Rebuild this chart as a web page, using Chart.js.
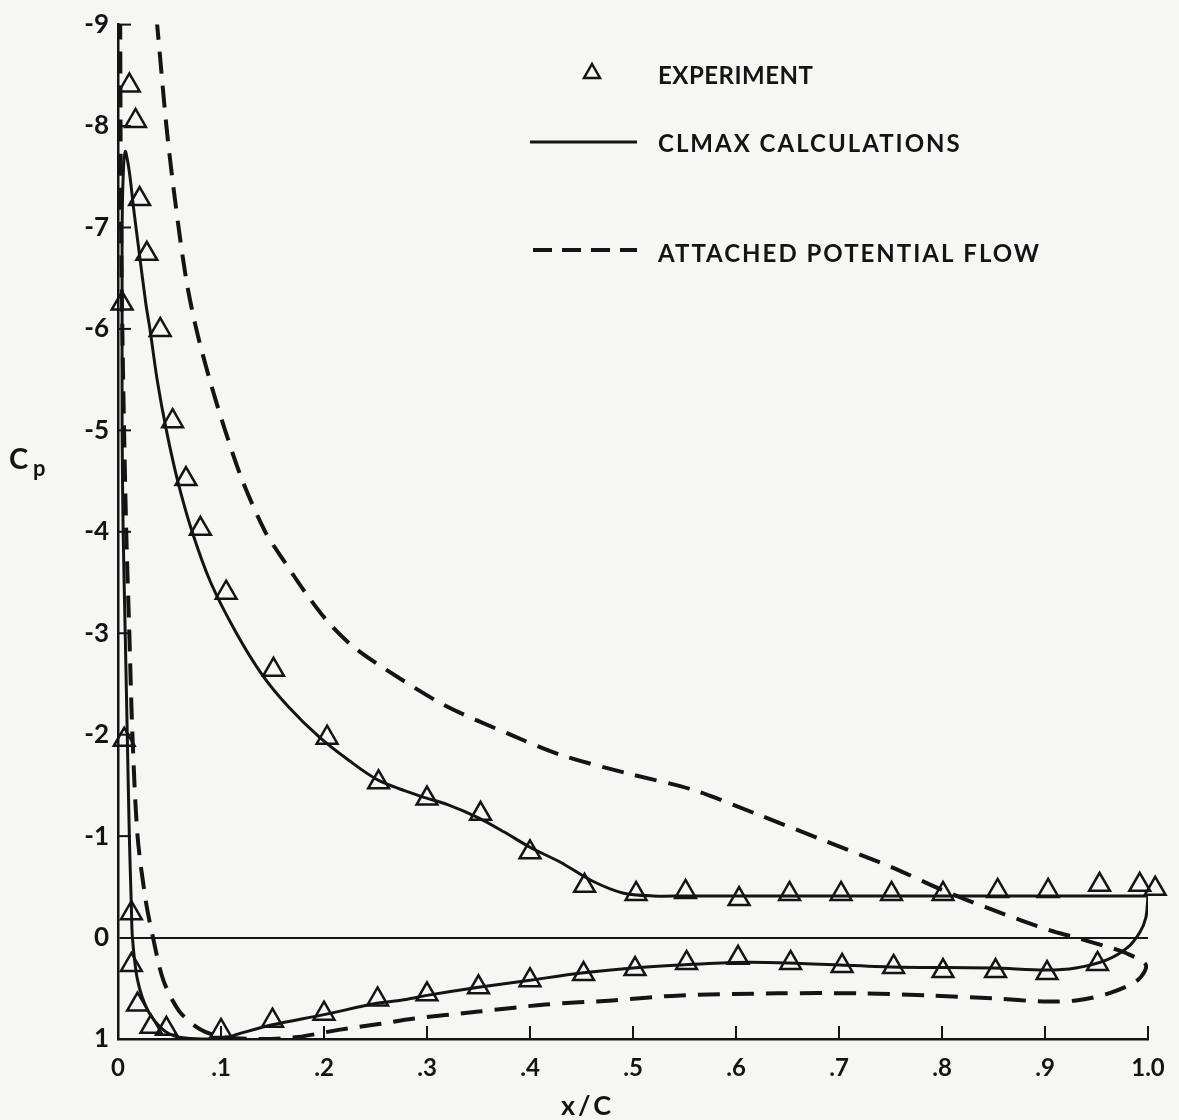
<!DOCTYPE html>
<html>
<head>
<meta charset="utf-8">
<title>Cp distribution</title>
<script src="https://cdn.jsdelivr.net/npm/chart.js@4.4.1/dist/chart.umd.min.js"></script>
<style>
  body { margin: 0; background: #f6f6f4; }
  #wrap { width: 1179px; height: 1120px; }
</style>
</head>
<body>
<div id="wrap"><canvas id="myChart" width="1179" height="1120"></canvas></div>
<script>
// axis ticks
let xTickValues = [0, 0.1, 0.2, 0.3, 0.4, 0.5, 0.6, 0.7, 0.8, 0.9, 1.0];
let xTickLabels = ['0', '.1', '.2', '.3', '.4', '.5', '.6', '.7', '.8', '.9', '1.0'];
let yTickValues = [-9, -8, -7, -6, -5, -4, -3, -2, -1, 0, 1];
let yTickLabels = ['-9', '-8', '-7', '-6', '-5', '-4', '-3', '-2', '-1', '0', '1'];

// experiment (triangles), upper surface then lower surface
let expX = [0.004, 0.006, 0.011, 0.017, 0.021, 0.028, 0.041, 0.053, 0.066, 0.080, 0.105, 0.151, 0.203, 0.253,
            0.300, 0.352, 0.400, 0.453, 0.503, 0.551, 0.603, 0.652, 0.702, 0.751, 0.801, 0.854, 0.903, 0.953,
            0.992, 1.007,
            0.013, 0.013, 0.019, 0.032, 0.047, 0.100, 0.150, 0.200, 0.252, 0.300, 0.350, 0.400, 0.452, 0.502,
            0.552, 0.602, 0.653, 0.703, 0.753, 0.801, 0.852, 0.902, 0.951];
let expCp = [-6.25, -1.95, -8.40, -8.05, -7.28, -6.74, -5.99, -5.09, -4.52, -4.03, -3.40, -2.64, -1.97, -1.53,
             -1.37, -1.22, -0.84, -0.51, -0.43, -0.45, -0.38, -0.43, -0.43, -0.43, -0.43, -0.46, -0.46, -0.52,
             -0.52, -0.48,
             -0.24, 0.27, 0.66, 0.88, 0.90, 0.92, 0.82, 0.75, 0.61, 0.56, 0.49, 0.42, 0.36, 0.31,
             0.25, 0.20, 0.25, 0.28, 0.29, 0.33, 0.33, 0.35, 0.26];

// CLMAX calculations (solid), traced round the airfoil from the trailing edge
let calcX = [1.000, 0.900, 0.700, 0.550, 0.520, 0.490, 0.460, 0.430, 0.400, 0.375, 0.350, 0.320, 0.295, 0.253,
             0.225, 0.195, 0.165, 0.140, 0.115, 0.090, 0.072, 0.058, 0.047, 0.038, 0.031, 0.027, 0.020, 0.015,
             0.011, 0.007, 0.005, 0.004, 0.004, 0.004, 0.005, 0.007, 0.009, 0.011, 0.013, 0.014, 0.019, 0.029,
             0.044, 0.058, 0.080, 0.100, 0.117, 0.150, 0.200, 0.250, 0.280, 0.300, 0.350, 0.400, 0.450, 0.500,
             0.545, 0.600, 0.650, 0.750, 0.850, 0.900, 0.930, 0.960, 0.980, 0.992, 0.998, 1.000];
let calcCp = [-0.41, -0.41, -0.41, -0.41, -0.41, -0.44, -0.56, -0.74, -0.89, -1.04, -1.18, -1.31, -1.39, -1.55,
              -1.74, -1.98, -2.28, -2.59, -3.00, -3.50, -4.00, -4.50, -5.00, -5.50, -6.00, -6.25, -6.80, -7.20,
              -7.55, -7.75, -7.50, -7.00, -6.30, -5.00, -4.00, -3.00, -2.00, -1.00, -0.30, 0.00, 0.42, 0.72,
              0.91, 0.98, 1.00, 1.00, 0.95, 0.86, 0.76, 0.65, 0.61, 0.57, 0.49, 0.42, 0.35, 0.30,
              0.27, 0.245, 0.25, 0.29, 0.30, 0.32, 0.30, 0.22, 0.10, -0.05, -0.20, -0.41];

// attached potential flow (dashed), peak runs off the top of the plot
let potX = [0.034, 0.038, 0.047, 0.055, 0.066, 0.076, 0.089, 0.104, 0.121, 0.143, 0.162, 0.182, 0.204, 0.228,
            0.259, 0.317, 0.381, 0.430, 0.494, 0.557, 0.622, 0.687, 0.752, 0.800, 0.850, 0.905, 0.930, 0.960,
            0.978, 0.998, 0.990, 0.962, 0.930, 0.898, 0.850, 0.786, 0.720, 0.640, 0.546, 0.480, 0.415, 0.350,
            0.286, 0.255, 0.214, 0.175, 0.140, 0.105, 0.090, 0.076, 0.059, 0.044, 0.034, 0.027, 0.019, 0.014,
            0.011, 0.008, 0.005, 0.003, 0.002];
let potCp = [-9.40, -9.00, -8.00, -7.30, -6.50, -6.00, -5.50, -5.00, -4.50, -4.00, -3.70, -3.40, -3.11, -2.87,
             -2.65, -2.29, -2.00, -1.80, -1.62, -1.46, -1.21, -0.95, -0.69, -0.47, -0.27, -0.07, 0.00, 0.09,
             0.15, 0.27, 0.42, 0.55, 0.62, 0.63, 0.60, 0.57, 0.55, 0.55, 0.57, 0.62, 0.66, 0.73,
             0.80, 0.85, 0.91, 0.98, 1.00, 0.985, 0.95, 0.88, 0.72, 0.42, 0.00, -0.36, -1.00, -2.00,
             -3.00, -4.00, -5.50, -7.00, -9.40];

const ink = '#141414';
const font = 'Lato, "Noto Sans", sans-serif';

function toPoints(xs, ys) {
    return xs.map((x, i) => ({ x: x, y: ys[i] }));
}

// inward tick marks, legend and axis titles
const extras = {
    id: 'extras',
    afterDraw(chart) {
        const ctx = chart.ctx;
        const area = chart.chartArea;
        const xs = chart.scales.x;
        const ys = chart.scales.y;
        ctx.save();
        ctx.strokeStyle = ink;
        ctx.lineWidth = 2;
        yTickValues.forEach(v => {
            if (v === 0 || v === 1) return;
            const py = ys.getPixelForValue(v);
            ctx.beginPath();
            ctx.moveTo(area.left, py);
            ctx.lineTo(area.left + 13, py);
            ctx.stroke();
        });
        xTickValues.forEach(v => {
            if (v === 0) return;
            const px = xs.getPixelForValue(v);
            ctx.beginPath();
            ctx.moveTo(px, area.bottom);
            ctx.lineTo(px, area.bottom - 13);
            ctx.stroke();
        });

        // legend
        ctx.lineWidth = 2.5;
        ctx.beginPath();
        ctx.moveTo(592, 64);
        ctx.lineTo(600, 78);
        ctx.lineTo(584, 78);
        ctx.closePath();
        ctx.stroke();

        ctx.lineWidth = 3;
        ctx.beginPath();
        ctx.moveTo(530, 142);
        ctx.lineTo(637, 142);
        ctx.stroke();

        ctx.lineWidth = 4;
        ctx.setLineDash([19, 10]);
        ctx.beginPath();
        ctx.moveTo(533, 250);
        ctx.lineTo(637, 250);
        ctx.stroke();
        ctx.setLineDash([]);

        ctx.fillStyle = ink;
        ctx.font = 'bold 24px ' + font;
        ctx.textBaseline = 'alphabetic';
        ctx.textAlign = 'left';
        ctx.letterSpacing = '0.5px';
        ctx.fillText('EXPERIMENT', 658, 84);
        ctx.letterSpacing = '2px';
        ctx.fillText('CLMAX CALCULATIONS', 658, 152);
        ctx.fillText('ATTACHED POTENTIAL FLOW', 658, 262);

        // axis titles
        ctx.letterSpacing = '3px';
        ctx.font = 'bold 27px ' + font;
        ctx.fillText('x/C', 561, 1115);
        ctx.letterSpacing = '0px';
        ctx.font = 'bold 29px ' + font;
        ctx.fillText('C', 9, 469);
        ctx.font = 'bold 22px ' + font;
        ctx.fillText('p', 33, 476);
        ctx.restore();
    }
};

function createChart() {
    const ctx = document.getElementById('myChart');

    new Chart(ctx, {
        type: 'scatter',
        data: {
            datasets: [
                {
                    label: 'EXPERIMENT',
                    data: toPoints(expX, expCp),
                    showLine: false,
                    pointStyle: 'triangle',
                    pointRadius: 12,
                    pointBorderWidth: 2.5,
                    pointBorderColor: ink,
                    pointBackgroundColor: 'rgba(0,0,0,0)',
                    clip: false
                },
                {
                    label: 'CLMAX CALCULATIONS',
                    data: toPoints(calcX, calcCp),
                    showLine: true,
                    borderColor: ink,
                    borderWidth: 3,
                    tension: 0.3,
                    pointRadius: 0
                },
                {
                    label: 'ATTACHED POTENTIAL FLOW',
                    data: toPoints(potX, potCp),
                    showLine: true,
                    borderColor: ink,
                    borderWidth: 4,
                    borderDash: [22, 12],
                    tension: 0.3,
                    pointRadius: 0
                }
            ]
        },
        options: {
            responsive: false,
            animation: false,
            layout: { padding: { top: 19, right: 31, left: 0, bottom: 0 } },
            plugins: {
                legend: { display: false },
                tooltip: { enabled: false }
            },
            scales: {
                x: {
                    type: 'linear',
                    min: 0,
                    max: 1,
                    afterFit: (scale) => { scale.height = 81; },
                    afterBuildTicks: (scale) => { scale.ticks = xTickValues.map(v => ({ value: v })); },
                    border: { display: true, color: ink, width: 2.5 },
                    grid: { display: false },
                    ticks: {
                        color: ink,
                        padding: 7,
                        maxRotation: 0,
                        font: { family: font, size: 24, weight: 'bold' },
                        callback: (value, index) => xTickLabels[index]
                    }
                },
                y: {
                    type: 'linear',
                    reverse: true,
                    min: -9,
                    max: 1,
                    afterFit: (scale) => { scale.width = 118; },
                    afterBuildTicks: (scale) => { scale.ticks = yTickValues.map(v => ({ value: v })); },
                    border: { display: true, color: ink, width: 2.5 },
                    grid: {
                        drawTicks: false,
                        lineWidth: 2,
                        color: (c) => (c.tick && c.tick.value === 0 ? ink : 'rgba(0,0,0,0)')
                    },
                    ticks: {
                        color: ink,
                        padding: 9,
                        font: { family: font, size: 26, weight: 'bold' },
                        callback: (value, index) => yTickLabels[index]
                    }
                }
            }
        },
        plugins: [extras]
    });
}

createChart();
</script>
</body>
</html>
